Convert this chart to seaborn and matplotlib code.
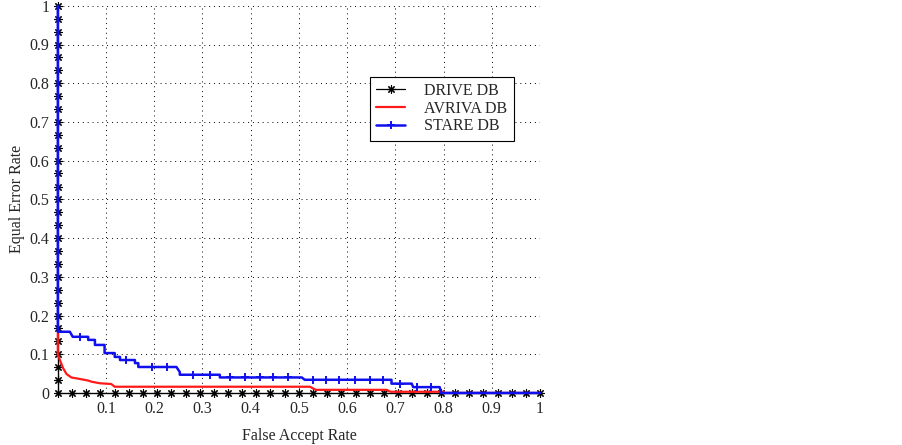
import matplotlib
matplotlib.use("Agg")
import matplotlib.pyplot as plt
import seaborn as sns

# DRIVE DB: perfect curve, markers along the left edge and the bottom edge
drive_far = [0, 0, 0, 0, 0, 0, 0, 0, 0, 0, 0, 0, 0, 0, 0, 0, 0, 0, 0, 0, 0, 0, 0, 0, 0, 0, 0, 0, 0, 0,
             0, 0.029, 0.059, 0.088, 0.118, 0.147, 0.176, 0.206, 0.235, 0.265, 0.294, 0.324,
             0.353, 0.382, 0.412, 0.441, 0.471, 0.5, 0.529, 0.559, 0.588, 0.618, 0.647, 0.676,
             0.706, 0.735, 0.765, 0.794, 0.824, 0.853, 0.882, 0.912, 0.941, 0.971, 1.0]
drive_eer = [1.0, 0.967, 0.933, 0.9, 0.867, 0.833, 0.8, 0.767, 0.733, 0.7, 0.667, 0.633, 0.6,
             0.567, 0.533, 0.5, 0.467, 0.433, 0.4, 0.367, 0.333, 0.3, 0.267, 0.233, 0.2, 0.167,
             0.133, 0.1, 0.067, 0.033,
             0, 0, 0, 0, 0, 0, 0, 0, 0, 0, 0, 0, 0, 0, 0, 0, 0, 0, 0, 0, 0, 0, 0, 0, 0, 0, 0,
             0, 0, 0, 0, 0, 0, 0, 0]

# AVRIVA DB
avriva_far = [0, 0, 0.005, 0.011, 0.018, 0.028, 0.046, 0.063, 0.07, 0.087, 0.111, 0.118,
              0.523, 0.535, 0.682, 0.69, 0.8, 0.8, 1.0]
avriva_eer = [0.155, 0.1, 0.083, 0.064, 0.049, 0.04, 0.036, 0.032, 0.029, 0.025, 0.023, 0.016,
              0.016, 0.008, 0.008, 0.003, 0.003, 0.0, 0.0]

# STARE DB
stare_far = [0, 0, 0.025, 0.031, 0.046, 0.063, 0.063, 0.077, 0.077, 0.097, 0.097, 0.118, 0.118,
             0.129, 0.129, 0.142, 0.160, 0.160, 0.167, 0.167, 0.196, 0.227, 0.246, 0.253, 0.253,
             0.281, 0.315, 0.336, 0.336, 0.357, 0.388, 0.419, 0.446, 0.477, 0.506, 0.512, 0.529,
             0.557, 0.583, 0.616, 0.647, 0.675, 0.692, 0.692, 0.71, 0.734, 0.737, 0.744, 0.775,
             0.792, 0.795, 1.0]
stare_eer = [1.0, 0.158, 0.158, 0.145, 0.145, 0.145, 0.137, 0.137, 0.124, 0.124, 0.103, 0.103,
             0.093, 0.093, 0.085, 0.085, 0.085, 0.077, 0.077, 0.067, 0.067, 0.067, 0.067, 0.054,
             0.047, 0.047, 0.047, 0.047, 0.040, 0.040, 0.040, 0.040, 0.040, 0.040, 0.040, 0.034,
             0.034, 0.034, 0.034, 0.034, 0.034, 0.034, 0.034, 0.024, 0.024, 0.024, 0.015, 0.015,
             0.015, 0.015, 0.0, 0.0]
stare_marks = [4, 15, 20, 21, 25, 26, 29, 30, 31, 32, 33, 36, 37, 38, 39, 40, 41, 44, 47, 48]

x_ticks = [0.1, 0.2, 0.3, 0.4, 0.5, 0.6, 0.7, 0.8, 0.9, 1.0]
x_tick_labels = ["0.1", "0.2", "0.3", "0.4", "0.5", "0.6", "0.7", "0.8", "0.9", "1"]
y_ticks = [0, 0.1, 0.2, 0.3, 0.4, 0.5, 0.6, 0.7, 0.8, 0.9, 1.0]
y_tick_labels = ["0", "0.1", "0.2", "0.3", "0.4", "0.5", "0.6", "0.7", "0.8", "0.9", "1"]


def main() -> None:
    sns.set_style("white")
    plt.rcParams["font.family"] = ["Liberation Serif", "DejaVu Serif"]

    fig = plt.figure(figsize=(9.03, 4.45), dpi=100)
    ax = fig.add_axes([0.064, 0.117, 0.534, 0.870])

    # asterisk-style marker (lines, not a filled star)
    sns.lineplot(x=drive_far, y=drive_eer, estimator=None, sort=False, ax=ax,
                 color="black", lw=0.9, marker=(8, 2, 0), markersize=6,
                 markeredgewidth=0.8, markeredgecolor="black", clip_on=False,
                 zorder=3, label="DRIVE DB")
    sns.lineplot(x=avriva_far, y=avriva_eer, estimator=None, sort=False, ax=ax,
                 color="#ff1a1a", lw=1.6, clip_on=False, zorder=4, label="AVRIVA DB")
    sns.lineplot(x=stare_far, y=stare_eer, estimator=None, sort=False, ax=ax,
                 color="#1010ee", lw=1.8, marker="+", markersize=6,
                 markeredgewidth=1.4, markeredgecolor="#1010ee", markevery=stare_marks,
                 clip_on=False, zorder=5, label="STARE DB")

    ax.set_xlim(0, 1)
    ax.set_ylim(0, 1)
    ax.set_xticks(x_ticks)
    ax.set_xticklabels(x_tick_labels)
    ax.set_yticks(y_ticks)
    ax.set_yticklabels(y_tick_labels)
    ax.tick_params(labelsize=11.5, pad=6, length=0)
    ax.grid(True, color="black", linestyle=(0, (1, 4)), lw=0.7)
    for side in ["top", "right"]:
        ax.spines[side].set_visible(False)
    for side in ["left", "bottom"]:
        ax.spines[side].set_color("black")
        ax.spines[side].set_linewidth(0.8)

    ax.set_xlabel("False Accept Rate", fontsize=11.5, labelpad=8)
    ax.set_ylabel("Equal Error Rate", fontsize=11.5, labelpad=3)

    leg = ax.legend(loc="upper left", bbox_to_anchor=(0.647, 0.817), fontsize=11.5,
                    frameon=True, fancybox=False, framealpha=1, edgecolor="black",
                    handlelength=1.8, handletextpad=1.2, labelspacing=0.1,
                    borderpad=0.4, borderaxespad=0)
    leg.get_frame().set_linewidth(0.8)

    fig.savefig("out.png", dpi=100)
    plt.close(fig)


if __name__ == "__main__":
    main()
